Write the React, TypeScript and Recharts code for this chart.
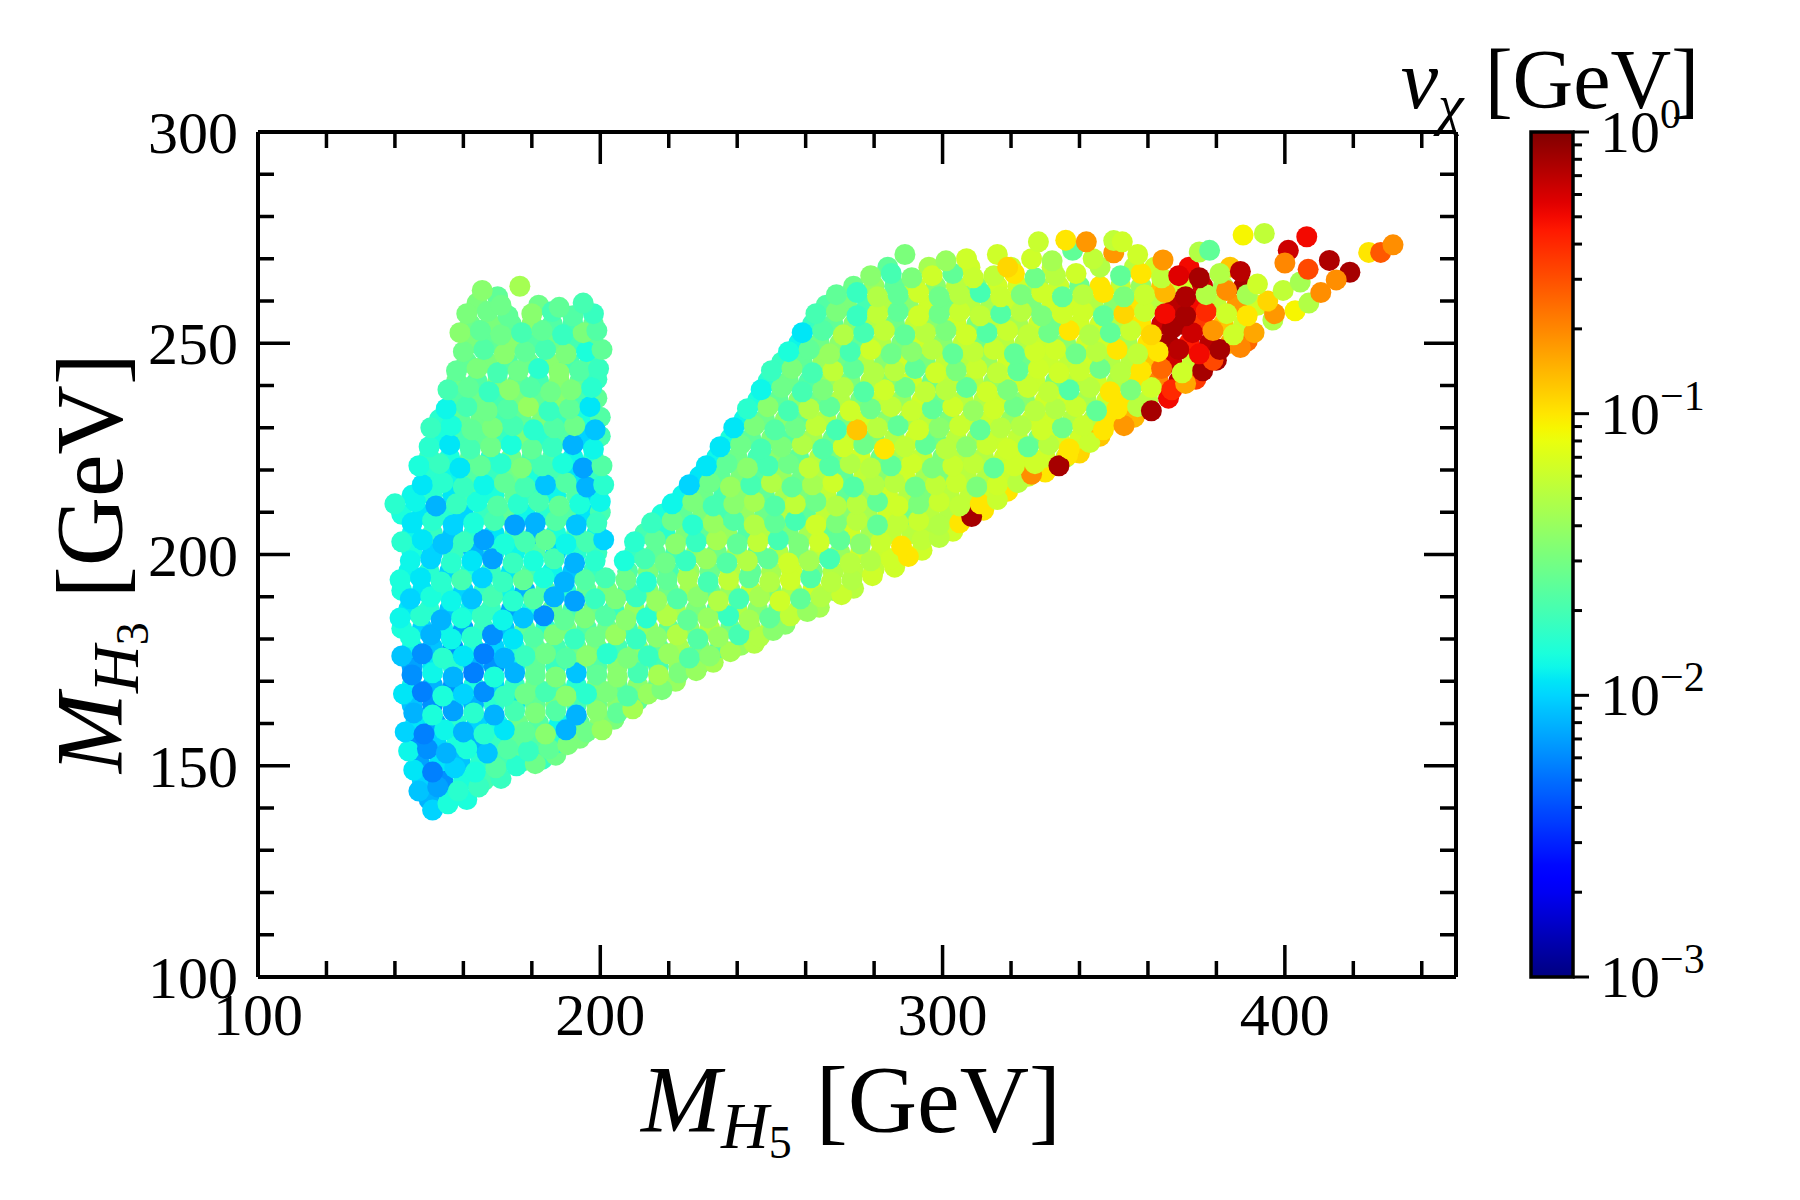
import React from "react";
import {
  ScatterChart,
  ComposedChart,
  Scatter,
  XAxis,
  YAxis,
  ReferenceArea,
} from "recharts";

// each point: [M_H5 (GeV), M_H3 (GeV), log10(v_chi / GeV)]
type Pt = [number, number, number];

const leftBase: Pt[] = [
  [151,139.5,-2.0],[155.5,141,-1.85],
  [147,144,-2.05],[152.5,145,-2.15],[158.5,144,-1.8],[164.5,145,-1.75],
  [145.5,149,-1.95],[151,148.5,-2.25],[157.5,149.5,-2.0],[163.5,148.5,-1.85],[169.5,149.5,-1.65],[175.5,150,-1.8],[181,150.5,-1.55],
  [144,153.5,-1.9],[149.5,154,-2.2],[155,153,-2.1],[161,154,-1.85],[167,153,-2.05],[173,154,-1.65],[179,153.5,-1.75],[185,154,-1.6],[190.5,155,-1.5],
  [143,158,-2.0],[148.5,157.5,-2.25],[154.5,158.5,-1.9],[160,158,-2.1],[166,157.5,-1.8],[172,158.5,-1.95],[178,158,-1.6],[184,157.5,-1.45],[190,158.5,-2.1],[196,158,-1.55],[200.5,158.5,-1.4],
  [145.5,162.5,-2.1],[151,162,-1.85],[157,163,-2.15],[163,162.5,-1.8],[169,162,-2.1],[175,163,-1.7],[181,162.5,-1.5],[187,163,-1.65],[193,162,-2.1],[199,163,-1.45],
  [142.5,167,-1.95],[148,167.5,-2.25],[154,166.5,-1.85],[160,167,-2.0],[166,167.5,-2.2],[172,166.5,-1.75],[178,167,-1.55],[184,167.5,-1.7],[190,166.5,-1.45],[196,167,-1.8],
  [145,171.5,-2.2],[151,172,-1.9],[157,171,-2.1],[163,172,-2.25],[169,171,-1.85],[175,172,-2.1],[181,171.5,-1.6],[187,171,-1.5],[193,172,-2.05],[199,171.5,-1.6],
  [142,176,-2.05],[148,176.5,-2.2],[154,175.5,-1.8],[160,176,-1.95],[166,176.5,-2.25],[172,175.5,-2.1],[178,176,-1.75],[184,176.5,-1.55],[190,175.5,-1.65],[196,176,-1.45],
  [144.5,180.5,-1.85],[150.5,181,-2.1],[156.5,180,-1.9],[162.5,180.5,-1.8],[168.5,181,-2.2],[174.5,180,-1.95],[180.5,180.5,-1.65],[186.5,181,-1.5],[192.5,180,-1.75],[198.5,180.5,-1.55],
  [141.5,185,-1.9],[147.5,185.5,-1.8],[153.5,184.5,-2.1],[159.5,185,-1.85],[165.5,185.5,-1.75],[171.5,184.5,-1.9],[177.5,185,-2.05],[183.5,185.5,-2.2],[189.5,184.5,-1.6],[195.5,185,-1.5],
  [144.5,189.5,-2.0],[150.5,190,-1.85],[156.5,189,-1.9],[162.5,189.5,-2.05],[168.5,190,-1.7],[174.5,189,-1.8],[180.5,189.5,-1.65],[186.5,190,-2.1],[192.5,189,-2.15],[198.5,189.5,-1.75],
  [141.5,194,-1.85],[147.5,194.5,-1.95],[153.5,193.5,-1.8],[159.5,194,-1.7],[165.5,194.5,-2.0],[171.5,193.5,-1.75],[177.5,194,-1.6],[183.5,194.5,-1.85],[189.5,193.5,-2.1],[195.5,194,-1.65],[201.5,194.5,-1.7],
];

const rightBase: Pt[] = [
  [205,162.5,-1.6],[209.5,163.5,-1.35],
  [202,167.5,-1.5],[208,166.5,-1.65],[214,167,-1.4],[218,168,-1.5],
  [205,171,-1.45],[211,172,-1.7],[217,171.5,-1.35],[223,172,-1.5],[228,172.5,-1.4],
  [202,176.5,-1.8],[208,175.5,-1.5],[214,176,-1.75],[220,176.5,-1.4],[226,175.5,-1.65],[232,176,-1.45],[238,177,-1.35],
  [204.5,181,-1.4],[210.5,180,-1.75],[216.5,180.5,-1.45],[222.5,181,-1.3],[228.5,180,-1.65],[234.5,180.5,-1.4],[240.5,181,-1.7],[246.5,180.5,-1.3],[250.5,182,-1.45],
  [201.5,185.5,-1.65],[207.5,184.5,-1.45],[213.5,185,-1.8],[219.5,185.5,-1.3],[225.5,184.5,-1.6],[231.5,185,-1.4],[237.5,185.5,-1.75],[243.5,184.5,-1.35],[249.5,185,-1.6],[255.5,185.5,-1.25],[260.5,186.5,-1.4],
  [204.5,189.5,-1.5],[210.5,190,-1.75],[216.5,189,-1.4],[222.5,189.5,-1.65],[228.5,190,-1.45],[234.5,189,-1.3],[240.5,189.5,-1.7],[246.5,190,-1.35],[252.5,189,-1.2],[258.5,189.5,-1.6],[264.5,190,-1.3],[270.5,190.5,-1.22],
  [207.5,194,-1.55],[213.5,193.5,-1.8],[219.5,194,-1.6],[225.5,194.5,-1.35],[231.5,193.5,-1.7],[237.5,194,-1.25],[243.5,194.5,-1.6],[249.5,193.5,-1.3],[255.5,194,-1.2],[261.5,194.5,-1.65],[267.5,193.5,-1.28],[273.5,194,-1.3],[279.5,195,-1.2],
];

// in-between points of the lower block, drawn underneath
const baseFill: Pt[] = [
  [150,142,-2.1],[156,142.5,-1.9],[161,142,-1.85],
  [148,146.5,-2.0],[154,146.5,-2.2],[160,146.5,-1.85],[166,146.5,-1.7],[171,147,-1.75],
  [147,151,-2.15],[153,151,-1.95],[159,151,-2.05],[165,151,-1.8],[171,151,-1.7],[177,151,-1.6],[183,151.5,-1.75],[187,152.5,-1.55],
  [146,155.5,-2.2],[152,155.5,-2.0],[158,155.5,-1.85],[164,155.5,-2.1],[170,155.5,-1.75],[176,155.5,-1.6],[182,155.5,-1.65],[188,155.5,-1.8],[194,156.5,-1.5],
  [146,160,-1.95],[152,160,-2.15],[158,160,-1.8],[164,160,-2.0],[170,160,-1.85],[176,160,-1.55],[182,160,-1.65],[188,160,-1.9],[194,160,-1.6],[200,160.5,-1.45],[204,161,-1.5],
  [145,164.5,-2.05],[151,164.5,-2.2],[157,164.5,-1.9],[163,164.5,-2.1],[169,164.5,-1.8],[175,164.5,-1.95],[181,164.5,-1.6],[187,164.5,-1.5],[193,164.5,-1.7],[199,164.5,-1.55],[205,164.5,-1.45],[211,165.5,-1.6],
  [145,169,-1.9],[151,169,-2.1],[157,169,-2.2],[163,169,-1.85],[169,169,-2.0],[175,169,-1.75],[181,169,-1.55],[187,169,-1.65],[193,169,-1.8],[199,169,-1.5],[205,169,-1.6],[211,169,-1.45],[217,169.5,-1.55],[222,170,-1.4],
  [145,173.5,-2.15],[151,173.5,-1.95],[157,173.5,-1.8],[163,173.5,-2.1],[169,173.5,-2.2],[175,173.5,-1.9],[181,173.5,-1.6],[187,173.5,-1.75],[193,173.5,-1.5],[199,173.5,-1.65],[205,173.5,-1.45],[211,173.5,-1.55],[217,173.5,-1.7],[223,173.5,-1.4],[229,174,-1.5],[233,174.5,-1.35],
  [145,178,-1.9],[151,178,-2.05],[157,178,-2.2],[163,178,-1.85],[169,178,-2.0],[175,178,-1.8],[181,178,-1.6],[187,178,-1.7],[193,178,-1.55],[199,178,-1.5],[205,178,-1.7],[211,178,-1.45],[217,178,-1.6],[223,178,-1.35],[229,178,-1.5],[235,178,-1.65],[241,178.5,-1.4],[245,179,-1.3],
  [142,182.5,-1.85],[148,182.5,-2.0],[154,182.5,-1.9],[160,182.5,-2.15],[166,182.5,-1.75],[172,182.5,-2.05],[178,182.5,-1.6],[184,182.5,-1.8],[190,182.5,-1.5],[196,182.5,-1.65],[202,182.5,-1.55],[208,182.5,-1.7],[214,182.5,-1.4],[220,182.5,-1.6],[226,182.5,-1.45],[232,182.5,-1.3],[238,182.5,-1.55],[244,182.5,-1.4],[250,183,-1.25],[254,183.5,-1.45],
  [144,187,-1.95],[150,187,-1.8],[156,187,-2.05],[162,187,-1.9],[168,187,-1.75],[174,187,-2.15],[180,187,-1.85],[186,187,-1.6],[192,187,-1.7],[198,187,-1.55],[204,187,-1.75],[210,187,-1.4],[216,187,-1.6],[222,187,-1.35],[228,187,-1.5],[234,187,-1.65],[240,187,-1.3],[246,187,-1.45],[252,187,-1.55],[258,187,-1.25],[264,187.5,-1.35],
  [142,191.5,-1.85],[148,191.5,-1.95],[154,191.5,-1.8],[160,191.5,-2.0],[166,191.5,-1.75],[172,191.5,-1.9],[178,191.5,-2.1],[184,191.5,-1.65],[190,191.5,-1.8],[196,191.5,-1.6],[202,191.5,-1.5],[208,191.5,-1.7],[214,191.5,-1.45],[220,191.5,-1.55],[226,191.5,-1.35],[232,191.5,-1.6],[238,191.5,-1.4],[244,191.5,-1.25],[250,191.5,-1.5],[256,191.5,-1.3],[262,191.5,-1.2],[268,191.5,-1.4],[274,192,-1.28],
  [144,196,-1.9],[150,196,-1.8],[156,196,-2.0],[162,196,-1.85],[168,196,-1.75],[174,196,-1.95],[180,196,-1.7],[186,196,-1.9],[192,196,-2.05],[198,196,-1.75],
  [208,196,-1.65],[214,196,-1.5],[220,196,-1.7],[226,196,-1.4],[232,196,-1.55],[238,196,-1.3],[244,196,-1.6],[250,196,-1.35],[256,196,-1.2],[262,196,-1.5],[268,196,-1.3],[274,196,-1.28],[280,196.5,-1.25],[286,197,-1.2],
];

const leftArm: Pt[] = [
  [144.5,198.5,-1.9],[150.5,199,-2.0],[156.5,198,-1.8],[162.5,198.5,-1.95],[168.5,199,-2.15],[174.5,198,-1.75],[180.5,198.5,-1.85],[186.5,199,-1.7],[192.5,198,-2.1],[198.5,198.5,-1.8],
  [142,203,-1.8],[148,203.5,-1.95],[154,202.5,-2.05],[160,203,-1.75],[166,203.5,-2.15],[172,202.5,-1.85],[178,203,-1.7],[184,203.5,-1.6],[190,202.5,-1.9],[196,203,-1.7],[201,203.5,-2.0],
  [145,207.5,-1.95],[151,208,-1.8],[157,207,-2.0],[163,207.5,-1.85],[169,208,-1.7],[175,207,-2.15],[181,207.5,-2.1],[187,208,-1.65],[193,207,-2.05],[199,207.5,-1.75],
  [140,212,-1.8],[146,212.5,-1.9],[152,211.5,-2.1],[158,212,-1.75],[164,212.5,-1.85],[170,211.5,-1.65],[176,212,-1.8],[182,212.5,-1.7],[188,211.5,-1.6],[194,212,-1.85],[200,212.5,-1.9],
  [148,216.5,-1.95],[154,217,-1.8],[160,216,-1.75],[166,216.5,-1.9],[172,217,-1.6],[178,216,-1.7],[184,216.5,-2.05],[190,217,-1.65],[196,216,-2.1],[201,216.5,-1.8],
  [147,221,-1.85],[153,221.5,-1.75],[159,220.5,-1.95],[165,221,-1.6],[171,221.5,-1.8],[177,220.5,-1.5],[183,221,-1.7],[189,221.5,-1.85],[195,220.5,-2.15],[200.5,221,-1.65],
  [150,225.5,-1.8],[156,226,-1.95],[162,225,-1.7],[168,225.5,-1.55],[174,226,-1.85],[180,225,-1.6],[186,225.5,-1.75],[192,226,-2.1],[198,225,-1.9],
  [150.5,230,-1.75],[156.5,230.5,-1.85],[162.5,229.5,-1.6],[168.5,230,-1.5],[174.5,230.5,-1.7],[180.5,229.5,-1.8],[186.5,230,-1.65],[192.5,230.5,-1.55],[198.5,229.5,-2.05],
  [155,234.5,-1.9],[161,235,-1.7],[167,234,-1.55],[173,234.5,-1.65],[179,235,-1.4],[185,234,-1.75],[191,234.5,-1.6],[197,235,-1.95],
  [155.5,239,-1.7],[161.5,239.5,-1.6],[167.5,238.5,-1.75],[173.5,239,-1.45],[179.5,239.5,-1.65],[185.5,238.5,-1.55],[191.5,239,-1.5],[197.5,239.5,-1.8],
  [158,243.5,-1.6],[164,244,-1.5],[170,243,-1.7],[176,243.5,-1.55],[182,244,-1.8],[188,243,-1.45],[194,243.5,-1.65],[199.5,244,-1.75],
  [160,248,-1.55],[166,248.5,-1.65],[172,247.5,-1.45],[178,248,-1.6],[184,248.5,-1.7],[190,247.5,-1.5],[196,248,-1.85],[200.5,248.5,-1.6],
  [159,252.5,-1.45],[165,253,-1.6],[171,252,-1.55],[177,252.5,-1.7],[183,253,-1.6],[189,252,-1.75],[195,252.5,-1.5],[199,253,-1.65],
  [161,257,-1.5],[167,257.5,-1.55],[173,256.5,-1.6],[180,257,-1.45],[186,257.5,-1.7],[192,256.5,-1.65],[198,257,-1.75],
  [165.5,262.5,-1.45],[176.5,263.5,-1.35],[195,259.5,-1.7],[188,258.5,-1.6],[171,259,-1.55],
];

const leftArmFill: Pt[] = [
  [145,200.5,-1.85],[151,200.5,-2.0],[157,200.5,-1.75],[163,200.5,-2.1],[169,200.5,-1.8],[175,200.5,-1.9],[181,200.5,-1.65],[187,200.5,-2.0],[193,200.5,-1.8],[199,200.5,-1.75],
  [145,205,-1.9],[151,205,-1.75],[157,205,-2.05],[163,205,-1.8],[169,205,-1.95],[175,205,-1.7],[181,205,-2.1],[187,205,-1.85],[193,205,-1.7],[199,205,-1.9],
  [142,209.5,-1.85],[148,209.5,-1.95],[154,209.5,-1.8],[160,209.5,-2.0],[166,209.5,-1.75],[172,209.5,-1.6],[178,209.5,-1.9],[184,209.5,-1.8],[190,209.5,-1.65],[196,209.5,-1.95],[200,210,-1.7],
  [145,214,-1.9],[151,214,-1.8],[157,214,-1.95],[163,214,-1.7],[169,214,-1.85],[175,214,-1.6],[181,214,-1.75],[187,214,-1.9],[193,214,-1.65],[199,214,-2.0],
  [150,218.5,-1.8],[156,218.5,-1.9],[162,218.5,-1.65],[168,218.5,-1.75],[174,218.5,-1.55],[180,218.5,-1.85],[186,218.5,-1.7],[192,218.5,-1.95],[198,218.5,-1.75],
  [150,223,-1.75],[156,223,-1.85],[162,223,-1.6],[168,223,-1.8],[174,223,-1.55],[180,223,-1.7],[186,223,-1.65],[192,223,-1.9],[198,223,-1.8],
  [153,227.5,-1.85],[159,227.5,-1.7],[165,227.5,-1.6],[171,227.5,-1.75],[177,227.5,-1.5],[183,227.5,-1.8],[189,227.5,-1.65],[195,227.5,-2.0],[200,228,-1.7],
  [153,232,-1.8],[159,232,-1.6],[165,232,-1.55],[171,232,-1.7],[177,232,-1.6],[183,232,-1.5],[189,232,-1.75],[195,232,-1.85],[200,232.5,-1.65],
  [158,236.5,-1.65],[164,236.5,-1.55],[170,236.5,-1.7],[176,236.5,-1.5],[182,236.5,-1.6],[188,236.5,-1.45],[194,236.5,-1.7],[199,237,-1.6],
  [158,241,-1.55],[164,241,-1.65],[170,241,-1.5],[176,241,-1.6],[182,241,-1.7],[188,241,-1.45],[194,241,-1.6],[199,241.5,-1.75],
  [161,245.5,-1.6],[167,245.5,-1.5],[173,245.5,-1.65],[179,245.5,-1.55],[185,245.5,-1.45],[191,245.5,-1.7],[197,245.5,-1.6],
  [162,250,-1.5],[168,250,-1.6],[174,250,-1.45],[180,250,-1.65],[186,250,-1.55],[192,250,-1.7],[198,250,-1.6],
  [162,254.5,-1.55],[168,254.5,-1.5],[174,254.5,-1.6],[180,254.5,-1.45],[186,254.5,-1.65],[192,254.5,-1.7],[198,254.5,-1.6],
  [164,259.5,-1.5],[170,261,-1.6],[182,259,-1.55],
];

const rightArm: Pt[] = [
  [207,198.5,-1.85],[213,199,-1.7],[219,198,-1.55],[225,198.5,-1.75],[231,199,-1.4],[237,198,-1.65],[243,198.5,-1.3],[249,199,-1.6],[255,198,-1.2],[261,198.5,-1.35],[267,199,-1.7],[273,198,-1.28],[279,198.5,-1.3],[285,199,-1.2],[290,199.5,-1.0],
  [210,203,-1.8],[216,203.5,-1.6],[222,202.5,-1.45],[228,203,-1.75],[234,203.5,-1.35],[240,202.5,-1.6],[246,203,-1.25],[252,203.5,-1.7],[258,202.5,-1.5],[264,203,-1.2],[270,203.5,-1.6],[276,202.5,-1.45],[282,203,-1.22],[288,202,-1.0],[294,203.5,-1.25],[299,204,-1.28],
  [215,207.5,-1.75],[221,208,-1.55],[227,207,-1.8],[233,207.5,-1.4],[239,208,-1.65],[245,207,-1.3],[251,207.5,-1.6],[257,208,-1.7],[263,207,-1.2],[269,207.5,-1.5],[275,208,-1.28],[281,207,-1.6],[287,207.5,-1.25],[293,208,-1.22],[299,207,-1.3],[305,207.5,-1.0],[308.5,209,-0.1],
  [221,212,-1.9],[227,212.5,-1.5],[233,211.5,-1.7],[239,212,-1.45],[245,212.5,-1.35],[251,211.5,-1.65],[257,212,-1.25],[263,212.5,-1.55],[269,211.5,-1.3],[275,212,-1.28],[281,212.5,-1.6],[287,211.5,-1.2],[293,212,-1.5],[299,212.5,-1.22],[305,211.5,-1.25],[311,212,-1.0],[316,213,-1.22],
  [226,216.5,-2.0],[232,217,-1.55],[238,216,-1.4],[244,216.5,-1.7],[250,217,-1.3],[256,216,-1.6],[262,216.5,-1.35],[268,217,-1.2],[274,216,-1.65],[280,216.5,-1.3],[286,217,-1.28],[292,216,-1.55],[298,216.5,-1.25],[304,217,-1.22],[310,216,-1.5],[316,216.5,-1.2],[322,217,-1.28],[326,219,-0.72],
  [231,221,-1.95],[237,221.5,-1.6],[243,220.5,-1.45],[249,221,-1.7],[255,221.5,-1.55],[261,220.5,-1.25],[267,221,-1.65],[273,221.5,-1.3],[279,220.5,-1.28],[285,221,-1.6],[291,221.5,-1.2],[297,220.5,-1.5],[303,221,-1.22],[309,221.5,-1.25],[315,220.5,-1.6],[321,221,-1.2],[327,221.5,-1.2],[336.5,223.5,-1.0],[334,221,-0.1],
  [235,225.5,-1.95],[241,226,-1.55],[247,225,-1.7],[253,225.5,-1.5],[259,226,-1.3],[265,225,-1.65],[271,225.5,-1.2],[277,226,-1.55],[283,225,-1.0],[289,225.5,-1.25],[295,226,-1.6],[301,225,-1.28],[307,225.5,-1.45],[313,226,-1.22],[319,225,-1.2],[325,225.5,-1.6],[331,226,-1.28],[337,225,-1.0],[343,226.5,-1.22],
  [239,230,-1.95],[245,230.5,-1.5],[251,229.5,-1.65],[257,230,-1.55],[263,230.5,-1.25],[269,229.5,-1.7],[275,229.5,-0.9],[281,230,-1.28],[287,230.5,-1.6],[293,229.5,-1.2],[299,230,-1.45],[305,230.5,-1.22],[311,229.5,-1.6],[317,230,-1.28],[323,230.5,-1.3],[329,229.5,-1.2],[335,230,-1.55],[341,230.5,-1.22],[347,229.5,-1.0],[353,230.5,-0.75],
  [243,234.5,-1.8],[249,235,-1.45],[255,234,-1.7],[261,234.5,-1.3],[267,235,-1.6],[273,234,-1.2],[279,234.5,-1.55],[285,235,-1.25],[291,234,-1.22],[297,234.5,-1.6],[303,235,-1.2],[309,234,-1.4],[315,234.5,-1.2],[321,235,-1.55],[327,234,-1.28],[333,234.5,-1.3],[339,235,-1.22],[345,234,-1.6],[351,234.5,-1.0],[357,235,-1.28],[361,234,-0.1],
  [247,239,-1.9],[253,239.5,-1.55],[259,238.5,-1.7],[265,239,-1.5],[271,239.5,-1.3],[277,238.5,-1.65],[283,239,-1.2],[289,239.5,-1.55],[295,238.5,-1.25],[301,239,-1.28],[307,239.5,-1.6],[313,238.5,-1.2],[319,239,-1.5],[325,239.5,-1.22],[331,238.5,-1.25],[337,239,-1.65],[343,239.5,-1.28],[349,238.5,-1.0],[355,239,-1.5],[361,239.5,-1.2],[367,239,-0.4],[371,240.5,-0.8],
  [250,243.5,-1.75],[256,244,-1.5],[262,243,-1.7],[268,243.5,-1.25],[274,244,-1.6],[280,243,-1.3],[286,243.5,-1.28],[292,244,-1.6],[298,243,-1.2],[304,243.5,-1.5],[310,244,-1.22],[316,243,-1.25],[322,243.5,-1.6],[328,244,-1.2],[334,243,-1.2],[340,243.5,-1.22],[346,244,-1.55],[352,243,-1.28],[358,243.5,-1.0],[364,244,-0.6],[370,243,-1.2],[376,243.5,-0.1],[379,246,-0.5],
  [255,248,-1.85],[261,248.5,-1.6],[267,247.5,-1.4],[273,248,-1.7],[279,248.5,-1.2],[285,247.5,-1.55],[291,248,-1.45],[297,248.5,-1.28],[303,247.5,-1.6],[309,248,-1.25],[315,248.5,-1.22],[321,247.5,-1.6],[327,248,-1.2],[333,248.5,-1.2],[339,247.5,-1.55],[345,248,-1.28],[351,248.5,-1.0],[357,247.5,-1.25],[363,248,-1.0],[369,248.5,-0.15],[375,247.5,-0.3],[381,248.5,-0.1],[387,249,-0.7],
  [259,252.5,-1.95],[265,253,-1.65],[271,252,-1.3],[277,252.5,-1.7],[283,253,-1.25],[289,252,-1.6],[295,252.5,-1.28],[301,253,-1.5],[307,252,-1.2],[313,252.5,-1.65],[319,253,-1.22],[325,252,-1.25],[331,252.5,-1.55],[337,253,-1.0],[343,252,-1.3],[349,252.5,-1.6],[355,253,-1.22],[361,252,-0.95],[367,253.5,-0.1],[373,252.5,-0.2],[379,253,-0.75],[385,252,-1.2],[391,252.5,-0.8],
  [263,257,-1.7],[269,257.5,-1.5],[275,256.5,-1.75],[281,257,-1.25],[287,257.5,-1.6],[293,256.5,-1.2],[299,257,-1.55],[305,257.5,-1.22],[311,256.5,-1.25],[317,257,-1.65],[323,257.5,-1.28],[329,256.5,-1.5],[335,257,-1.2],[341,257.5,-1.2],[347,256.5,-1.6],[353,257,-0.95],[359,257.5,-1.22],[365,257,-0.3],[371,256.5,-0.1],[377,257.5,-0.4],[383,257,-1.2],[389,256.5,-1.0],
  [269,261.5,-1.6],[275,262,-1.75],[281,261,-1.3],[287,261.5,-1.6],[293,262,-1.2],[299,261,-1.55],[305,261.5,-1.28],[311,262,-1.7],[317,261,-1.22],[323,261.5,-1.5],[329,262,-1.2],[335,261,-1.6],[341,261.5,-1.28],[347,262,-1.0],[353,261,-1.5],[359,261.5,-1.22],[365,262,-0.85],[371,261,-0.12],[377,261.5,-1.3],[383,262.5,-0.72],[389,261.5,-1.35],
  [279,266,-1.45],[285,266.5,-1.7],[291,265.5,-1.5],[297,266,-1.2],[303,266.5,-1.6],[309,265.5,-1.22],[315,266,-1.25],[321,266.5,-1.0],[327,265.5,-1.55],[333,266,-1.28],[339,266.5,-1.2],[346,268,-1.3],[352,266,-1.6],[358,266.5,-1.0],[364,265.5,-1.25],[369,266,-0.25],[375,265.5,-0.1],[381,266.5,-1.3],[387,267,-0.15],
];

const rightArmFill: Pt[] = [
  [210,200.5,-1.75],[216,200.5,-1.6],[222,200.5,-1.7],[228,200.5,-1.45],[234,200.5,-1.55],[240,200.5,-1.35],[246,200.5,-1.6],[252,200.5,-1.3],[258,200.5,-1.5],[264,200.5,-1.25],[270,200.5,-1.4],[276,200.5,-1.2],[282,200.5,-1.22],[288,200.5,-1.3],[294,201,-1.2],
  [213,205,-1.7],[219,205,-1.8],[225,205,-1.5],[231,205,-1.6],[237,205,-1.4],[243,205,-1.65],[249,205,-1.3],[255,205,-1.5],[261,205,-1.35],[267,205,-1.6],[273,205,-1.2],[279,205,-1.35],[285,205,-1.25],[291,205,-1.28],[297,205,-1.3],[303,205.5,-1.2],
  [218,209.5,-1.85],[224,209.5,-1.6],[230,209.5,-1.5],[236,209.5,-1.7],[242,209.5,-1.4],[248,209.5,-1.55],[254,209.5,-1.3],[260,209.5,-1.6],[266,209.5,-1.25],[272,209.5,-1.45],[278,209.5,-1.35],[284,209.5,-1.2],[290,209.5,-1.55],[296,209.5,-1.28],[302,209.5,-1.3],[308,209.5,-1.22],[312,210.5,-1.0],
  [224,214,-1.9],[230,214,-1.55],[236,214,-1.7],[242,214,-1.45],[248,214,-1.6],[254,214,-1.35],[260,214,-1.5],[266,214,-1.25],[272,214,-1.6],[278,214,-1.4],[284,214,-1.2],[290,214,-1.3],[296,214,-1.5],[302,214,-1.28],[308,214,-1.25],[314,214,-1.2],[319,215,-1.0],
  [229,218.5,-1.95],[235,218.5,-1.6],[241,218.5,-1.5],[247,218.5,-1.65],[253,218.5,-1.4],[259,218.5,-1.55],[265,218.5,-1.3],[271,218.5,-1.6],[277,218.5,-1.25],[283,218.5,-1.45],[289,218.5,-1.2],[295,218.5,-1.35],[301,218.5,-1.5],[307,218.5,-1.28],[313,218.5,-1.3],[319,218.5,-1.22],[325,218.5,-1.2],[330,219.5,-1.0],
  [234,223,-1.9],[240,223,-1.55],[246,223,-1.7],[252,223,-1.45],[258,223,-1.6],[264,223,-1.3],[270,223,-1.5],[276,223,-1.2],[282,223,-1.55],[288,223,-1.35],[294,223,-1.25],[300,223,-1.5],[306,223,-1.28],[312,223,-1.3],[318,223,-1.22],[324,223,-1.2],[330,223,-1.2],[336,223,-1.28],[340,224,-0.95],
  [238,227.5,-1.85],[244,227.5,-1.6],[250,227.5,-1.5],[256,227.5,-1.65],[262,227.5,-1.35],[268,227.5,-1.55],[274,227.5,-1.25],[280,227.5,-1.5],[286,227.5,-1.3],[292,227.5,-1.2],[298,227.5,-1.55],[304,227.5,-1.28],[310,227.5,-1.35],[316,227.5,-1.22],[322,227.5,-1.25],[328,227.5,-1.5],[334,227.5,-1.2],[340,227.5,-1.2],[346,228,-0.9],
  [242,232,-1.9],[248,232,-1.55],[254,232,-1.45],[260,232,-1.6],[266,232,-1.3],[272,232,-1.5],[278,232,-1.2],[284,232,-1.45],[290,232,-1.35],[296,232,-1.28],[302,232,-1.5],[308,232,-1.25],[314,232,-1.22],[320,232,-1.4],[326,232,-1.2],[332,232,-1.2],[338,232,-1.3],[344,232,-1.28],[350,232,-1.0],[356,232.5,-0.85],
  [246,236.5,-1.85],[252,236.5,-1.6],[258,236.5,-1.45],[264,236.5,-1.55],[270,236.5,-1.3],[276,236.5,-1.5],[282,236.5,-1.25],[288,236.5,-1.4],[294,236.5,-1.2],[300,236.5,-1.55],[306,236.5,-1.28],[312,236.5,-1.3],[318,236.5,-1.22],[324,236.5,-1.45],[330,236.5,-1.2],[336,236.5,-1.2],[342,236.5,-1.35],[348,236.5,-1.22],[354,236.5,-1.0],[360,236.5,-1.28],[366,237,-0.3],
  [249,241,-1.8],[255,241,-1.55],[261,241,-1.65],[267,241,-1.4],[273,241,-1.5],[279,241,-1.3],[285,241,-1.45],[291,241,-1.2],[297,241,-1.55],[303,241,-1.25],[309,241,-1.28],[315,241,-1.4],[321,241,-1.2],[327,241,-1.22],[333,241,-1.5],[339,241,-1.28],[345,241,-1.2],[351,241,-1.3],[357,241,-1.0],[363,241,-0.7],[369,241,-0.15],[374,241.5,-0.45],
  [253,245.5,-1.75],[259,245.5,-1.6],[265,245.5,-1.4],[271,245.5,-1.55],[277,245.5,-1.3],[283,245.5,-1.45],[289,245.5,-1.2],[295,245.5,-1.5],[301,245.5,-1.25],[307,245.5,-1.28],[313,245.5,-1.4],[319,245.5,-1.2],[325,245.5,-1.55],[331,245.5,-1.22],[337,245.5,-1.25],[343,245.5,-1.2],[349,245.5,-1.3],[355,245.5,-1.28],[361,245.5,-0.9],[367,245.5,-0.2],[373,245.5,-1.22],[380,246,-0.1],
  [258,250,-1.9],[264,250,-1.55],[270,250,-1.45],[276,250,-1.6],[282,250,-1.3],[288,250,-1.5],[294,250,-1.2],[300,250,-1.45],[306,250,-1.25],[312,250,-1.55],[318,250,-1.28],[324,250,-1.3],[330,250,-1.22],[336,250,-1.45],[342,250,-1.2],[348,250,-1.2],[354,250,-1.35],[360,250,-1.0],[366,250,-0.1],[372,250,-0.35],[378,250,-0.15],[384,250,-0.8],[389,250.5,-0.6],
  [262,254.5,-1.75],[268,254.5,-1.6],[274,254.5,-1.45],[280,254.5,-1.3],[286,254.5,-1.55],[292,254.5,-1.25],[298,254.5,-1.45],[304,254.5,-1.2],[310,254.5,-1.5],[316,254.5,-1.28],[322,254.5,-1.35],[328,254.5,-1.22],[334,254.5,-1.55],[340,254.5,-1.2],[346,254.5,-1.2],[352,254.5,-1.3],[358,254.5,-1.0],[364,254.5,-0.2],[370,254.5,-0.1],[376,254.5,-0.45],[382,254.5,-0.9],[388,254.5,-1.22],
  [266,259,-1.65],[272,259,-1.5],[278,259,-1.7],[284,259,-1.3],[290,259,-1.45],[296,259,-1.2],[302,259,-1.55],[308,259,-1.28],[314,259,-1.35],[320,259,-1.22],[326,259,-1.5],[332,259,-1.2],[338,259,-1.2],[344,259,-1.3],[350,259,-1.45],[356,259,-1.0],[362,259,-1.28],[368,259,-0.15],[374,259,-0.3],[380,259,-1.25],[386,259,-0.75],[392,259,-1.2],
  [274,263.5,-1.55],[280,263.5,-1.4],[286,263.5,-1.6],[292,263.5,-1.25],[298,263.5,-1.45],[304,263.5,-1.28],[310,263.5,-1.5],[316,263.5,-1.2],[322,263.5,-1.2],[328,263.5,-1.35],[334,263.5,-1.22],[340,263.5,-1.55],[346,263.5,-1.0],[352,263.5,-1.25],[358,263.5,-1.4],[364,263.5,-0.9],[370,263.5,-1.2],[376,263.5,-0.2],[382,263.5,-1.35],[388,263.5,-0.1],
  [284,268,-1.6],[296,268,-1.35],[308,268,-1.2],[320,268,-1.22],[332,268,-1.25],[356,268,-1.28],[362,268,-1.2],[372,268,-0.3],[384,268,-0.9],
];

const topEdge: Pt[] = [
  [289,271,-1.5],[301,269.5,-1.4],[307,270,-1.2],[316,271,-1.2],[319,268,-0.95],[326,270,-1.2],[332,269.5,-1.35],[338,272,-1.6],[344,270,-1.25],[350,271.4,-0.75],[357,271,-1.2],[364.4,269.7,-0.75],[375,271.6,-1.3],[378,272,-1.6],
  [328,274,-1.22],[336,274.4,-1.0],[342,274,-0.75],[350,274.3,-1.25],[352.5,274,-1.2],[387.8,275.6,-1.05],[394,276,-1.25],
];

const tipPoints: Pt[] = [
  [396.5,255.5,-1.3],[397,257,-0.75],[403,257.7,-1.05],[407,259.5,-1.3],[395,260,-0.95],[399.5,262.5,-1.25],[392,264,-1.2],[410.5,262,-0.72],[404.5,264.5,-1.35],
  [401,272,-0.2],[406.4,275.2,-0.3],[413,269.6,-0.12],[419,266.8,-0.1],[415,265,-0.72],[406.8,267.5,-0.5],[400,269,-0.7],[424.5,271.5,-1.0],[428,271.5,-0.55],[431.6,273.3,-0.72],
];

const xTicks = [100, 120, 140, 160, 180, 200, 220, 240, 260, 280, 300, 320, 340, 360, 380, 400, 420, 440];
const yTicks = [100, 110, 120, 130, 140, 150, 160, 170, 180, 190, 200, 210, 220, 230, 240, 250, 260, 270, 280, 290, 300];
const cbarTicks = [
  0.001, 0.002, 0.003, 0.004, 0.005, 0.006, 0.007, 0.008, 0.009,
  0.01, 0.02, 0.03, 0.04, 0.05, 0.06, 0.07, 0.08, 0.09,
  0.1, 0.2, 0.3, 0.4, 0.5, 0.6, 0.7, 0.8, 0.9, 1,
];

const FONT = "'Liberation Serif', 'DejaVu Serif', serif";

// matplotlib "jet" colormap segments
const JET_R = [[0, 0], [0.35, 0], [0.66, 1], [0.89, 1], [1, 0.5]];
const JET_G = [[0, 0], [0.125, 0], [0.375, 1], [0.64, 1], [0.91, 0], [1, 0]];
const JET_B = [[0, 0.5], [0.11, 1], [0.34, 1], [0.65, 0], [1, 0]];

function seg(pts: number[][], t: number) {
  for (let i = 0; i < pts.length - 1; i++) {
    const [t0, v0] = pts[i];
    const [t1, v1] = pts[i + 1];
    if (t <= t1) return v0 + ((v1 - v0) * (t - t0)) / (t1 - t0);
  }
  return pts[pts.length - 1][1];
}

function jetT(t: number) {
  const c = (p: number[][]) => Math.round(255 * seg(p, Math.min(1, Math.max(0, t))));
  return `rgb(${c(JET_R)},${c(JET_G)},${c(JET_B)})`;
}

const jetLog = (lv: number) => jetT((lv + 3) / 3);

const toData = (pts: Pt[]) => pts.map(([x, y, lv]) => ({ x, y, lv }));

const dot = (p: any) => (
  <circle cx={p.cx} cy={p.cy} r={10.5} fill={jetLog(p.payload.lv)} />
);

const TICK_W = 3.5;

function BottomTick({ x, y, payload }: any) {
  const major = payload.value % 100 === 0;
  return (
    <g>
      <line x1={x} x2={x} y1={y} y2={y - (major ? 32 : 16)} stroke="#000" strokeWidth={TICK_W} />
      {major && (
        <text x={x} y={y + 58} textAnchor="middle" fontSize={60} fontFamily={FONT} fill="#000">
          {payload.value}
        </text>
      )}
    </g>
  );
}

function TopTick({ x, y, payload }: any) {
  const major = payload.value % 100 === 0;
  return <line x1={x} x2={x} y1={y} y2={y + (major ? 32 : 16)} stroke="#000" strokeWidth={TICK_W} />;
}

function LeftTick({ x, y, payload }: any) {
  const major = payload.value % 50 === 0;
  return (
    <g>
      <line x1={x} x2={x + (major ? 32 : 16)} y1={y} y2={y} stroke="#000" strokeWidth={TICK_W} />
      {major && (
        <text x={x - 20} y={y + 21} textAnchor="end" fontSize={60} fontFamily={FONT} fill="#000">
          {payload.value}
        </text>
      )}
    </g>
  );
}

function RightTick({ x, y, payload }: any) {
  const major = payload.value % 50 === 0;
  return <line x1={x} x2={x - (major ? 32 : 16)} y1={y} y2={y} stroke="#000" strokeWidth={TICK_W} />;
}

function CbarTick({ x, y, payload }: any) {
  const lg = Math.log10(payload.value);
  const e = Math.round(lg);
  const major = Math.abs(lg - e) < 1e-6;
  return (
    <g>
      <line x1={x} x2={x + (major ? 16 : 9)} y1={y} y2={y} stroke="#000" strokeWidth={3} />
      {major && (
        <text x={x + 27} y={y + 20} fontSize={60} fontFamily={FONT} fill="#000">
          10
          <tspan dy={-24} fontSize={42}>
            {e === 0 ? "0" : "\u2212" + -e}
          </tspan>
        </text>
      )}
    </g>
  );
}

function ColorbarRect(p: any) {
  const stops = [];
  for (let i = 0; i <= 60; i++) {
    const t = 1 - i / 60;
    stops.push(<stop key={i} offset={i / 60} stopColor={jetT(t)} />);
  }
  return (
    <g>
      <defs>
        <linearGradient id="jetGrad" x1="0" y1="0" x2="0" y2="1">
          {stops}
        </linearGradient>
      </defs>
      <rect x={p.x} y={p.y} width={p.width} height={p.height} fill="url(#jetGrad)" stroke="#000" strokeWidth={3.5} />
    </g>
  );
}

const axisLine = { stroke: "#000", strokeWidth: 4 };

export default function App() {
  const layer: React.CSSProperties = { position: "absolute", left: 0, top: 0 };
  return (
    <div style={{ position: "absolute", left: 0, top: 0, width: 1800, height: 1200, background: "#fff" }}>
      <div style={layer}>
        <ScatterChart width={1800} height={1200} margin={{ top: 131, right: 343, bottom: 222, left: 257 }}>
          <XAxis
            type="number" dataKey="x" domain={[100, 450]} ticks={xTicks} interval={0}
            height={1} tickSize={0} tickMargin={0} tickLine={false} axisLine={axisLine}
            tick={(p: any) => <BottomTick {...p} />} allowDataOverflow
          />
          <XAxis
            xAxisId="top" orientation="top" type="number" dataKey="x" domain={[100, 450]} ticks={xTicks} interval={0}
            height={1} tickSize={0} tickMargin={0} tickLine={false} axisLine={axisLine}
            tick={(p: any) => <TopTick {...p} />} allowDataOverflow
          />
          <YAxis
            type="number" dataKey="y" domain={[100, 300]} ticks={yTicks} interval={0}
            width={1} tickSize={0} tickMargin={0} tickLine={false} axisLine={axisLine}
            tick={(p: any) => <LeftTick {...p} />} allowDataOverflow
          />
          <YAxis
            yAxisId="right" orientation="right" type="number" dataKey="y" domain={[100, 300]} ticks={yTicks} interval={0}
            width={1} tickSize={0} tickMargin={0} tickLine={false} axisLine={axisLine}
            tick={(p: any) => <RightTick {...p} />} allowDataOverflow
          />
          <Scatter data={toData(baseFill)} shape={dot} isAnimationActive={false} />
          <Scatter data={toData(leftArmFill)} shape={dot} isAnimationActive={false} />
          <Scatter data={toData(rightArmFill)} shape={dot} isAnimationActive={false} />
          <Scatter data={toData(leftBase)} shape={dot} isAnimationActive={false} />
          <Scatter data={toData(leftArm)} shape={dot} isAnimationActive={false} />
          <Scatter data={toData(rightBase)} shape={dot} isAnimationActive={false} />
          <Scatter data={toData(rightArm)} shape={dot} isAnimationActive={false} />
          <Scatter data={toData(topEdge)} shape={dot} isAnimationActive={false} />
          <Scatter data={toData(tipPoints)} shape={dot} isAnimationActive={false} />
        </ScatterChart>
      </div>
      <div style={layer}>
        <ComposedChart
          width={1800} height={1200}
          margin={{ top: 132, right: 226, bottom: 223, left: 1531 }}
          data={cbarTicks.map((v) => ({ v }))}
        >
          <YAxis
            orientation="right" type="number" dataKey="v" scale="log" domain={[0.001, 1]}
            ticks={cbarTicks} interval={0} width={1} tickSize={0} tickMargin={0}
            tickLine={false} axisLine={false} tick={(p: any) => <CbarTick {...p} />} allowDataOverflow
          />
          <ReferenceArea y1={0.001} y2={1} ifOverflow="visible" shape={(p: any) => <ColorbarRect {...p} />} />
        </ComposedChart>
      </div>
      <svg width={1800} height={1200} style={{ ...layer, pointerEvents: "none" }}>
        <text x={851} y={1132} textAnchor="middle" fontSize={96} fontFamily={FONT} fill="#000">
          <tspan fontStyle="italic">M</tspan>
          <tspan fontStyle="italic" fontSize={66} dy={16}>H</tspan>
          <tspan fontSize={46} dy={10}>5</tspan>
          <tspan fontSize={96} dy={-26}>{"\u00a0[GeV]"}</tspan>
        </text>
        <text
          x={122} y={563} textAnchor="middle" fontSize={96} fontFamily={FONT} fill="#000"
          transform="rotate(-90 122 563)"
        >
          <tspan fontStyle="italic">M</tspan>
          <tspan fontStyle="italic" fontSize={66} dy={16}>H</tspan>
          <tspan fontSize={46} dy={10}>3</tspan>
          <tspan fontSize={96} dy={-26}>{"\u00a0[GeV]"}</tspan>
        </text>
        <text x={1550} y={108} textAnchor="middle" fontSize={84} fontFamily={FONT} fill="#000">
          <tspan fontStyle="italic">v</tspan>
          <tspan fontStyle="italic" fontSize={58} dy={16}>χ</tspan>
          <tspan fontSize={84} dy={-16}>{"\u00a0[GeV]"}</tspan>
        </text>
      </svg>
    </div>
  );
}
